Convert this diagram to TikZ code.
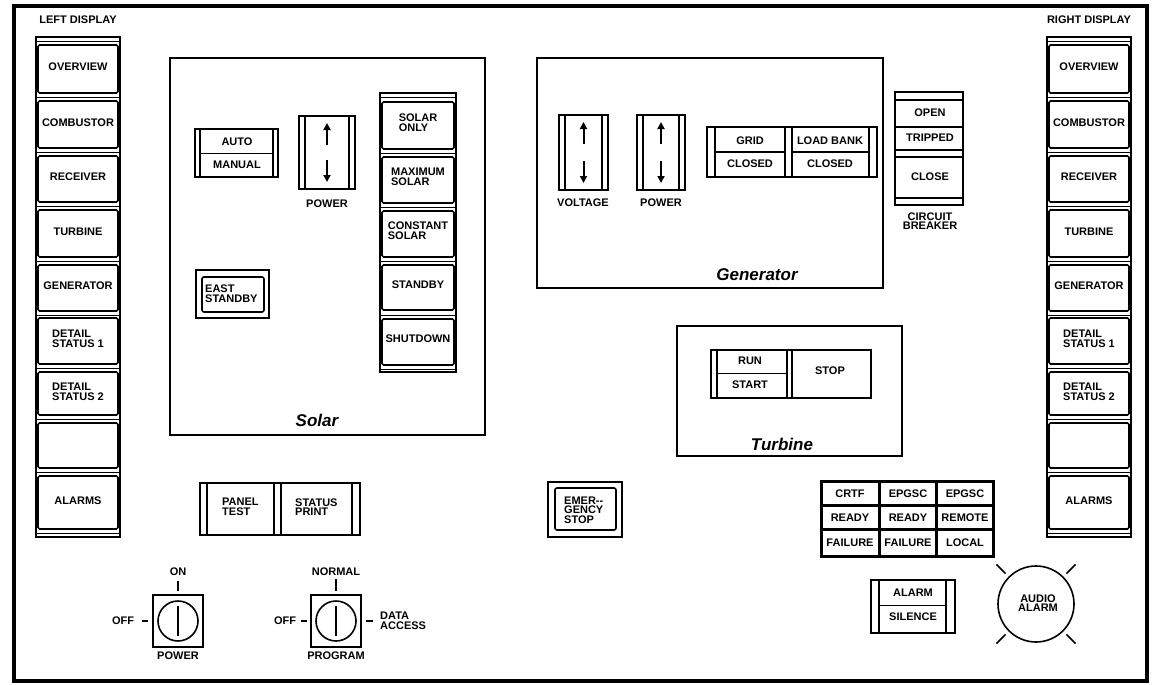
\documentclass[tikz,border=0pt]{standalone}
\usepackage{fontspec}
\setmainfont{Liberation Sans}
\usetikzlibrary{arrows.meta}
\tikzset{
  lbl/.style={font=\bfseries\fontsize{11}{9.6}\selectfont, align=center, inner sep=0pt},
  lbll/.style={lbl, align=left},
  ttl/.style={font=\bfseries\itshape\fontsize{17}{17}\selectfont, inner sep=0pt},
  panel/.style={line width=1.6pt},
  btn/.style={line width=1.6pt},
  thinln/.style={line width=0.8pt},
  thickln/.style={line width=2.6pt},
  arr/.style={line width=2pt,-{Triangle[length=7pt,width=7pt]}}
}
\newcommand\dispcol[3]{%
 \begin{scope}[shift={(#1,0)}]
  \draw[thickln] (0,37) rectangle (84,537);
  \foreach \t/\b/\txt [count=\i] in {45/93/OVERVIEW,101/148/COMBUSTOR,156/202/RECEIVER,210/257/TURBINE,265/311/GENERATOR,318/364/{DETAIL\\STATUS 1},372/415/{DETAIL\\STATUS 2},423/468/{},476/529/ALARMS}{
    \draw[btn,rounded corners=1.5pt] (2,\t) rectangle (82,\b);
    \node[lbll] (#3b\i) at (42,{(\t+\b)/2-2}) {\txt};
  }
  \foreach \y in {41,97,152,206,261,315,368,419,472,533} \draw[thinln] (1,\y) -- (83,\y);
  \node[lbl] (#3title) at (42,20) {#2};
 \end{scope}}
\newcommand\vslider[4]{% x y w h
  \draw[btn] (#1,#2) rectangle (#1+#3,#2+#4);
  \draw[btn] (#1+6,#2) -- (#1+6,#2+#4) (#1+#3-6,#2) -- (#1+#3-6,#2+#4);
  \draw[arr] (#1+#3/2,#2+29) -- (#1+#3/2,#2+7);
  \draw[arr] (#1+#3/2,#2+#4-29) -- (#1+#3/2,#2+#4-7);
}
\newcommand\keysw[2]{%
  \draw[btn] (#1-25,#2-26) rectangle (#1+25,#2+26);
  \draw[btn] (#1,#2) circle[radius=20pt];
  \draw[line width=1.8pt] (#1,#2-15) -- (#1,#2+15);
}
\begin{document}
\begin{tikzpicture}[x=1pt,y=-1pt]
\useasboundingbox (0,0) rectangle (1154,685);
\draw[line width=4pt] (14,6) rectangle (1147,681);

% display columns
\dispcol{36}{LEFT DISPLAY}{L}
\dispcol{1047}{RIGHT DISPLAY}{R}

% ---------------- Solar panel
\draw[panel] (170,58) rectangle (485,435);
\node[ttl] (solar) at (317,420) {Solar};
% auto/manual
\draw[btn] (195,129) rectangle (278,177);
\draw[btn] (200,129) -- (200,177) (273,129) -- (273,177);
\draw[thinln] (200,153) -- (273,153);
\node[lbl] (auto) at (237,142) {AUTO};
\node[lbl] (manual) at (237,165) {MANUAL};
% power slider
\vslider{299}{116}{56}{73}
\node[lbl] (spower) at (327,204) {POWER};
% mode column
\draw[thickln] (380,93) rectangle (456,372);
\foreach \t/\b/\txt [count=\i] in {102/149/{SOLAR\\ONLY},157/203/{MAXIMUM\\SOLAR},211/257/{CONSTANT\\SOLAR},265/310/STANDBY,319/365/SHUTDOWN}{
  \draw[btn,rounded corners=1.5pt] (382,\t) rectangle (454,\b);
  \node[lbll] (mode\i) at (418,{(\t+\b)/2-3}) {\txt};
}
\foreach \y in {97,153,207,261,315,369} \draw[thinln] (381,\y) -- (455,\y);
% east standby
\draw[btn] (196,270) rectangle (269,318);
\draw[btn,rounded corners=2pt] (202,277) rectangle (264,312);
\node[lbll,anchor=west] (east) at (205,294) {EAST\\STANDBY};

% ---------------- Generator panel
\draw[panel] (537,58) rectangle (883,288);
\node[ttl] (gen) at (757,275) {Generator};
\vslider{559}{115}{49}{75}
\node[lbl] (volt) at (583,203) {VOLTAGE};
\vslider{637}{115}{48}{75}
\node[lbl] (gpower) at (661,203) {POWER};
% grid / load bank
\draw[thickln] (707,127) rectangle (877,177);
\draw[btn] (715,127) -- (715,177) (869,127) -- (869,177) (785,127) -- (785,177) (792,127) -- (792,177);
\draw[btn] (715,152) -- (785,152) (792,152) -- (869,152);
\node[lbl] (grid) at (750,141) {GRID};
\node[lbl] (gridc) at (750,164) {CLOSED};
\node[lbl] (load) at (830,141) {LOAD BANK};
\node[lbl] (loadc) at (830,164) {CLOSED};
% circuit breaker
\draw[btn] (895,92) rectangle (963,205);
\draw[btn] (895,100) -- (963,100) (895,127) -- (963,127) (895,150) -- (963,150) (895,157) -- (963,157) (895,198) -- (963,198);
\node[lbl] (open) at (930,113) {OPEN};
\node[lbl] (trip) at (930,138) {TRIPPED};
\node[lbl] (close) at (930,177) {CLOSE};
\node[lbl] (cb) at (930,221) {CIRCUIT\\BREAKER};

% ---------------- Turbine panel
\draw[panel] (677,326) rectangle (902,456);
\node[ttl] (turb) at (782,444) {Turbine};
\draw[btn] (711,350) rectangle (871,398);
\draw[btn] (717,350) -- (717,398) (787,350) -- (787,398) (792,350) -- (792,398);
\draw[thinln] (717,373) -- (787,373);
\node[lbl] (run) at (750,361) {RUN};
\node[lbl] (start) at (750,385) {START};
\node[lbl] (stop) at (830,371) {STOP};

% ---------------- panel test / status print
\draw[btn] (200,483) rectangle (360,535);
\draw[btn] (207,483) -- (207,535) (352,483) -- (352,535) (274,483) -- (274,535) (281,483) -- (281,535);
\node[lbll,anchor=west] (ptest) at (222,507) {PANEL\\TEST};
\node[lbll,anchor=west] (sprint) at (295,507) {STATUS\\PRINT};

% key switches
\keysw{178}{621}
\node[lbl] (on) at (178,572) {ON};
\draw[btn] (178,581) -- (178,591);
\node[lbl] (poff) at (123,621) {OFF};
\draw[btn] (142,621) -- (148,621);
\node[lbl] (kpow) at (178,656) {POWER};

\keysw{336}{621}
\node[lbl] (normal) at (336,572) {NORMAL};
\draw[btn] (336,579) -- (336,591);
\node[lbl] (goff) at (285,621) {OFF};
\draw[btn] (301,621) -- (307,621);
\draw[btn] (366,621) -- (373,621);
\node[lbll,anchor=west] (data) at (380,621) {DATA\\ACCESS};
\node[lbl] (prog) at (336,656) {PROGRAM};

% emergency stop
\draw[btn] (548,482) rectangle (622,537);
\draw[btn,rounded corners=2pt] (555,488) rectangle (616,530);
\node[lbll,anchor=west] (emer) at (564,510) {EMER-{}-\\GENCY\\STOP};

% status grid
\fill (820,480) rectangle (995,558);
\foreach \x/\X in {823/878,881/935,938/992}
  \foreach \y/\Y in {483/504,507/528,531/555}
    \fill[white] (\x,\y) rectangle (\X,\Y);
\node[lbl] (s11) at (850,494) {CRTF};
\node[lbl] (s12) at (908,494) {EPGSC};
\node[lbl] (s13) at (965,494) {EPGSC};
\node[lbl] (s21) at (850,518) {READY};
\node[lbl] (s22) at (908,518) {READY};
\node[lbl] (s23) at (965,518) {REMOTE};
\node[lbl] (s31) at (850,543) {FAILURE};
\node[lbl] (s32) at (908,543) {FAILURE};
\node[lbl] (s33) at (965,543) {LOCAL};

% alarm silence
\draw[btn] (871,580) rectangle (955,633);
\draw[btn] (879,580) -- (879,633) (946,580) -- (946,633);
\draw[thinln] (879,605) -- (946,605);
\node[lbl] (alarm) at (913,593) {ALARM};
\node[lbl] (silence) at (913,617) {SILENCE};

% audio alarm
\coordinate (ac) at (1036,604);
\draw[btn] (ac) circle[radius=38pt];
\foreach \a in {45,135,225,315}
  \draw[btn] (ac) ++(\a:43pt) -- ++(\a:13pt);
\node[lbl] (audio) at (1038,603) {AUDIO\\ALARM};
\end{tikzpicture}
\end{document}
